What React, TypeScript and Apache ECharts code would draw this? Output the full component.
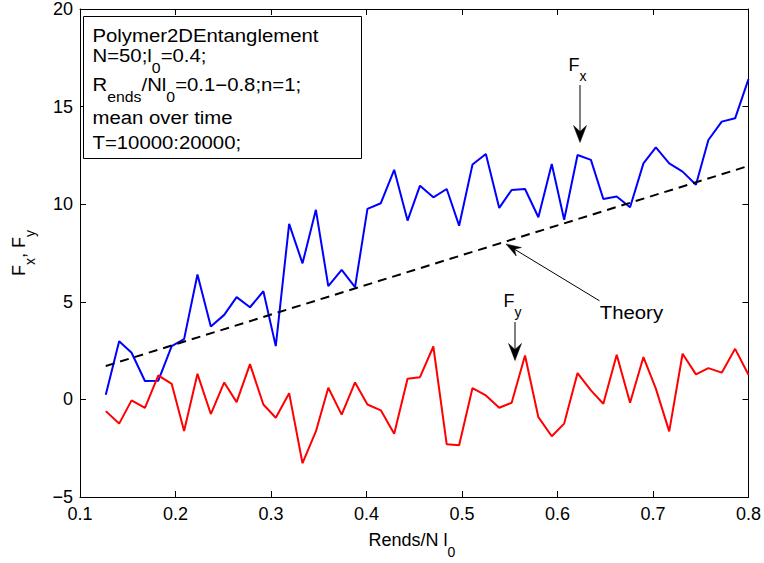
import React, { useEffect, useRef } from "react";
import * as echarts from "echarts";

// ---- data ----
const xValues = [
  0.127, 0.141, 0.154, 0.168, 0.182, 0.196, 0.209, 0.223, 0.237, 0.251,
  0.264, 0.278, 0.292, 0.305, 0.319, 0.333, 0.347, 0.36, 0.374, 0.388,
  0.401, 0.415, 0.429, 0.443, 0.456, 0.47, 0.484, 0.497, 0.511, 0.525,
  0.539, 0.552, 0.566, 0.58, 0.594, 0.607, 0.621, 0.635, 0.648, 0.662,
  0.676, 0.69, 0.703, 0.717, 0.731, 0.745, 0.758, 0.772, 0.786, 0.8,
];
const fxValues = [
  0.24, 2.98, 2.39, 0.94, 0.96, 2.73, 3.09, 6.4, 3.74, 4.33,
  5.24, 4.72, 5.54, 2.73, 8.99, 6.97, 9.71, 5.8, 6.64, 5.75,
  9.76, 10.05, 11.76, 9.16, 10.95, 10.35, 10.78, 8.9, 12.03, 12.57,
  9.81, 10.73, 10.78, 9.33, 12.06, 9.2, 12.52, 12.27, 10.27, 10.39,
  9.84, 12.09, 12.91, 12.09, 11.67, 11.0, 13.29, 14.23, 14.4, 16.41,
];
const fyValues = [
  -0.6, -1.24, -0.05, -0.43, 1.23, 0.8, -1.62, 1.31, -0.75, 0.87,
  -0.14, 1.81, -0.26, -0.94, 0.32, -3.27, -1.64, 0.6, -0.78, 0.87,
  -0.26, -0.56, -1.76, 1.06, 1.14, 2.71, -2.3, -2.35, 0.58, 0.2,
  -0.43, -0.17, 2.25, -0.91, -1.89, -1.24, 1.35, 0.46, -0.22, 2.29,
  -0.17, 2.17, 0.55, -1.64, 2.34, 1.28, 1.6, 1.37, 2.59, 1.26,
];
const theoryX = [0.127, 0.8];
const theoryY = [1.71, 11.96];
const xTickMin = 0.1;
const xTickMax = 0.8;
const xTickStep = 0.1;
const yTickMin = -5;
const yTickMax = 20;
const yTickStep = 5;

const FONT = "'Liberation Sans', Arial, Helvetica, sans-serif";

type Seg = { t: string; sub?: boolean };

let measureCtx: CanvasRenderingContext2D | null = null;
function measure(text: string, size: number): number {
  if (!measureCtx) {
    const c = document.createElement("canvas");
    measureCtx = c.getContext("2d");
  }
  if (!measureCtx) return text.length * size * 0.55;
  measureCtx.font = `${size}px ${FONT}`;
  return measureCtx.measureText(text).width;
}

function lineWidth(segs: Seg[], main = 18, sub = 14): number {
  return segs.reduce((w, s) => w + measure(s.t, s.sub ? sub : main), 0);
}

// builds text elements along a baseline; subscripts dropped
function richLine(
  segs: Seg[],
  x0: number,
  baseline: number,
  sx = 1,
  main = 18,
  sub = 14,
  drop = 10
): any[] {
  const out: any[] = [];
  let x = x0;
  for (const s of segs) {
    const size = s.sub ? sub : main;
    const bl = s.sub ? baseline + drop : baseline;
    out.push({
      type: "text",
      x,
      y: bl - 0.3465 * size,
      scaleX: sx,
      silent: true,
      style: {
        text: s.t,
        font: `${size}px ${FONT}`,
        fill: "#000",
        align: "left",
        verticalAlign: "middle",
      },
    });
    x += measure(s.t, size) * sx;
  }
  return out;
}

function arrowHead(tip: [number, number], dir: [number, number], len: number, half: number, notch: number) {
  const [ux, uy] = dir;
  const nx = -uy;
  const ny = ux;
  const bx = tip[0] + ux * len;
  const by = tip[1] + uy * len;
  return {
    type: "polygon",
    silent: true,
    shape: {
      points: [
        tip,
        [bx + nx * half, by + ny * half],
        [tip[0] + ux * notch, tip[1] + uy * notch],
        [bx - nx * half, by - ny * half],
      ],
    },
    style: { fill: "#000", stroke: "#000", lineWidth: 0.5 },
  };
}

export default function App() {
  const ref = useRef<HTMLDivElement>(null);

  useEffect(() => {
    if (!ref.current) return;
    const chart = echarts.init(ref.current, null, { renderer: "svg" });

    const fxData = xValues.map((x, i) => [x, fxValues[i]]);
    const fyData = xValues.map((x, i) => [x, fyValues[i]]);
    const thData = theoryX.map((x, i) => [x, theoryY[i]]);

    const tickStyle = { inside: true, length: 6, lineStyle: { color: "#000", width: 1 } };
    const lineStyleAxis = { show: true, onZero: false, lineStyle: { color: "#000", width: 1 } };
    const labelStyle = { color: "#000", fontSize: 18, fontFamily: FONT };

    const SX = 1.13;

    // annotation text box
    const boxLines: { segs: Seg[]; bl: number }[] = [
      { segs: [{ t: "Polymer2DEntanglement" }], bl: 41.7 },
      { segs: [{ t: "N=50;l" }, { t: "0", sub: true }, { t: "=0.4;" }], bl: 62.5 },
      {
        segs: [
          { t: "R" },
          { t: "ends", sub: true },
          { t: "/Nl" },
          { t: "0", sub: true },
          { t: "=0.1\u22120.8;n=1;" },
        ],
        bl: 91.5,
      },
      { segs: [{ t: "mean over time" }], bl: 124 },
      { segs: [{ t: "T=10000:20000;" }], bl: 149.3 },
    ];
    const boxTexts = boxLines.flatMap((l) => richLine(l.segs, 92.5, l.bl, SX));

    // y axis label (rotated)
    const yLabelSegs: Seg[] = [
      { t: "F" },
      { t: "x", sub: true },
      { t: ", F" },
      { t: "y", sub: true },
    ];
    const yLabelW = lineWidth(yLabelSegs);
    const xLabelSegs: Seg[] = [{ t: "Rends/N l" }, { t: "0", sub: true }];
    const xLabelW = lineWidth(xLabelSegs);

    const graphics: any[] = [
      {
        type: "rect",
        silent: true,
        shape: { x: 83.5, y: 16.5, width: 278, height: 142 },
        style: { fill: "#fff", stroke: "#000", lineWidth: 1 },
        z: 10,
      },
      ...boxTexts.map((t) => ({ ...t, z: 11 })),
      {
        type: "group",
        x: 25,
        y: 253 + yLabelW / 2,
        rotation: Math.PI / 2,
        children: richLine(yLabelSegs, 0, 0),
      },
      ...richLine(xLabelSegs, 412 - xLabelW / 2, 546.5),
      // F_x annotation
      ...richLine([{ t: "F" }, { t: "x", sub: true }], 568.6, 71),
      {
        type: "line",
        silent: true,
        shape: { x1: 580, y1: 85, x2: 580, y2: 132 },
        style: { stroke: "#000", lineWidth: 1 },
      },
      arrowHead([580, 142.5], [0, -1], 17, 6.5, 11),
      // F_y annotation
      ...richLine([{ t: "F" }, { t: "y", sub: true }], 503.6, 307),
      {
        type: "line",
        silent: true,
        shape: { x1: 515, y1: 322, x2: 515, y2: 352 },
        style: { stroke: "#000", lineWidth: 1 },
      },
      arrowHead([515, 360.5], [0, -1], 17, 6.5, 11),
      // Theory annotation
      ...richLine([{ t: "Theory" }], 599.8, 319.5, SX),
      {
        type: "line",
        silent: true,
        shape: { x1: 599.5, y1: 300.8, x2: 512, y2: 247.7 },
        style: { stroke: "#000", lineWidth: 1 },
      },
      arrowHead([506, 244], [0.855, 0.519], 15, 5, 10),
    ];

    chart.setOption({
      animation: false,
      backgroundColor: "#fff",
      grid: { left: 80, right: 15, top: 8, bottom: 66, containLabel: false },
      xAxis: [
        {
          type: "value",
          min: xTickMin,
          max: xTickMax,
          interval: xTickStep,
          position: "bottom",
          axisLine: lineStyleAxis,
          axisTick: tickStyle,
          splitLine: { show: false },
          axisLabel: {
            ...labelStyle,
            margin: 8,
            showMinLabel: true,
            showMaxLabel: true,
            hideOverlap: false,
            formatter: (v: number) => v.toFixed(1),
          },
        },
        {
          type: "value",
          min: xTickMin,
          max: xTickMax,
          interval: xTickStep,
          position: "top",
          axisLine: lineStyleAxis,
          axisTick: tickStyle,
          splitLine: { show: false },
          axisLabel: { show: false },
        },
      ],
      yAxis: [
        {
          type: "value",
          min: yTickMin,
          max: yTickMax,
          interval: yTickStep,
          position: "left",
          axisLine: lineStyleAxis,
          axisTick: tickStyle,
          splitLine: { show: false },
          axisLabel: {
            ...labelStyle,
            margin: 7,
            showMinLabel: true,
            showMaxLabel: true,
            hideOverlap: false,
            formatter: (v: number) => (v < 0 ? "\u2212" + Math.abs(v) : String(v)),
          },
        },
        {
          type: "value",
          min: yTickMin,
          max: yTickMax,
          interval: yTickStep,
          position: "right",
          axisLine: lineStyleAxis,
          axisTick: tickStyle,
          splitLine: { show: false },
          axisLabel: { show: false },
        },
      ],
      series: [
        {
          name: "Fx",
          type: "line",
          data: fxData,
          showSymbol: false,
          symbol: "none",
          lineStyle: { color: "#0000ff", width: 2 },
          z: 3,
        },
        {
          name: "Fy",
          type: "line",
          data: fyData,
          showSymbol: false,
          symbol: "none",
          lineStyle: { color: "#ff0000", width: 2 },
          z: 3,
        },
        {
          name: "Theory",
          type: "line",
          data: thData,
          showSymbol: false,
          symbol: "none",
          lineStyle: { color: "#000", width: 2, type: [9, 6] },
          z: 4,
        },
      ],
      graphic: graphics,
    });

    return () => chart.dispose();
  }, []);

  return (
    <div
      ref={ref}
      style={{ position: "absolute", left: 0, top: 0, width: 764, height: 563, background: "#fff" }}
    />
  );
}
